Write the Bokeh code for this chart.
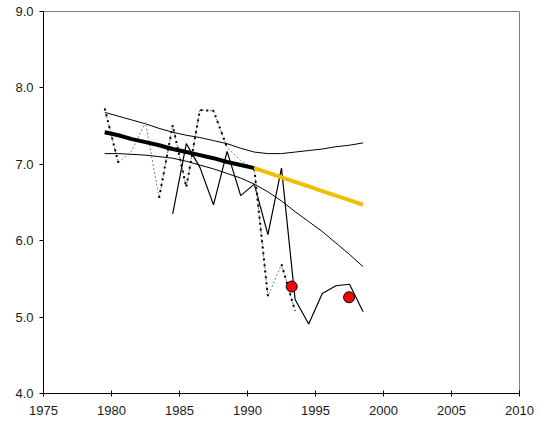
from bokeh.plotting import figure
from bokeh.models import Range1d, FixedTicker, NumeralTickFormatter
from bokeh.embed import file_html
from bokeh.resources import INLINE

# ---- data ----
x_ticks = [1975, 1980, 1985, 1990, 1995, 2000, 2005, 2010]
y_ticks = [4, 5, 6, 7, 8, 9]

trend_years = [1979.5, 1980.5, 1981.5, 1982.5, 1983.5, 1984.5, 1985.5, 1986.5,
               1987.5, 1988.5, 1989.5, 1990.5]
trend_vals = [7.42, 7.38, 7.33, 7.29, 7.25, 7.20, 7.16, 7.12, 7.08, 7.03, 6.99, 6.95]

proj_years = [1990.5, 1991.5, 1992.5, 1993.5, 1994.5, 1995.5, 1996.5, 1997.5, 1998.5]
proj_vals = [6.95, 6.89, 6.83, 6.77, 6.71, 6.65, 6.59, 6.53, 6.47]

band_years = [1979.5, 1980.5, 1981.5, 1982.5, 1983.5, 1984.5, 1985.5, 1986.5, 1987.5,
              1988.5, 1989.5, 1990.5, 1991.5, 1992.5, 1993.5, 1994.5, 1995.5, 1996.5,
              1997.5, 1998.5]
upper_vals = [7.68, 7.63, 7.58, 7.53, 7.47, 7.42, 7.38, 7.35, 7.31, 7.27, 7.21, 7.16,
              7.14, 7.14, 7.16, 7.18, 7.20, 7.23, 7.25, 7.28]
lower_vals = [7.14, 7.14, 7.13, 7.12, 7.10, 7.08, 7.04, 6.99, 6.94, 6.88, 6.82, 6.74,
              6.64, 6.52, 6.38, 6.25, 6.12, 5.97, 5.82, 5.66]

obs_years = [1984.5, 1985.5, 1986.5, 1987.5, 1988.5, 1989.5, 1990.5, 1991.5, 1992.5,
             1993.5, 1994.5, 1995.5, 1996.5, 1997.5, 1998.5]
obs_vals = [6.35, 7.27, 6.96, 6.47, 7.17, 6.59, 6.74, 6.08, 6.95, 5.23, 4.91, 5.31,
            5.41, 5.43, 5.07]

dot_years = [1979.5, 1980.5, 1981.5, 1982.5, 1983.5, 1984.5, 1985.5, 1986.5, 1987.5,
             1988.5, 1989.5, 1990.5, 1991.5, 1992.5, 1993.5]
dot_vals = [7.73, 7.02, 7.18, 7.55, 6.56, 7.51, 6.70, 7.71, 7.70, 7.22, 7.05, 6.94,
            5.27, 5.69, 5.08]
dark_segments = [(0, 1), (4, 9), (11, 12), (13, 14)]  # index spans drawn darker

point_years = [1993.25, 1997.47]
point_vals = [5.40, 5.26]

# ---- figure ----
p = figure(width=542, height=421, output_backend="svg", toolbar_location=None,
           x_range=Range1d(1975, 2010), y_range=Range1d(4, 9),
           min_border_left=43, min_border_right=23, min_border_top=11,
           min_border_bottom=28, background_fill_color="white",
           border_fill_color="white")
p.xgrid.visible = False
p.ygrid.visible = False
p.outline_line_color = "#808080"
p.outline_line_width = 1

font = "Liberation Sans"
for ax in (p.xaxis[0], p.yaxis[0]):
    ax.axis_line_color = "black"
    ax.axis_line_width = 1
    ax.major_tick_line_color = "black"
    ax.minor_tick_line_color = None
    ax.major_label_text_font = font
    ax.major_label_text_font_size = "13px"
    ax.major_label_text_color = "#1a1a1a"

p.xaxis.ticker = FixedTicker(ticks=x_ticks)
p.xaxis.major_tick_in = 3
p.xaxis.major_tick_out = 3
p.xaxis.major_label_standoff = 9

p.yaxis.ticker = FixedTicker(ticks=y_ticks)
p.yaxis.formatter = NumeralTickFormatter(format="0.0")
p.yaxis.major_tick_in = 0
p.yaxis.major_tick_out = 4
p.yaxis.major_label_standoff = 6

# band lines
p.line(band_years, upper_vals, line_color="black", line_width=1)
p.line(band_years, lower_vals, line_color="black", line_width=1)

# observed solid zigzag
p.line(obs_years, obs_vals, line_color="black", line_width=1.2)

# dotted series
p.line(dot_years, dot_vals, line_color="#7a7a7a", line_width=1, line_dash="2 2")
for a, b in dark_segments:
    p.line(dot_years[a:b + 1], dot_vals[a:b + 1], line_color="black",
           line_width=2, line_dash="2 4")

# trend + projection
p.line(trend_years, trend_vals, line_color="black", line_width=4)
p.line(proj_years, proj_vals, line_color="#F0C000", line_width=4)

# red points
p.scatter(point_years, point_vals, size=11, fill_color="#FF0000",
          line_color="black", line_width=1)

open("out.html", "w").write(file_html(p, INLINE))
